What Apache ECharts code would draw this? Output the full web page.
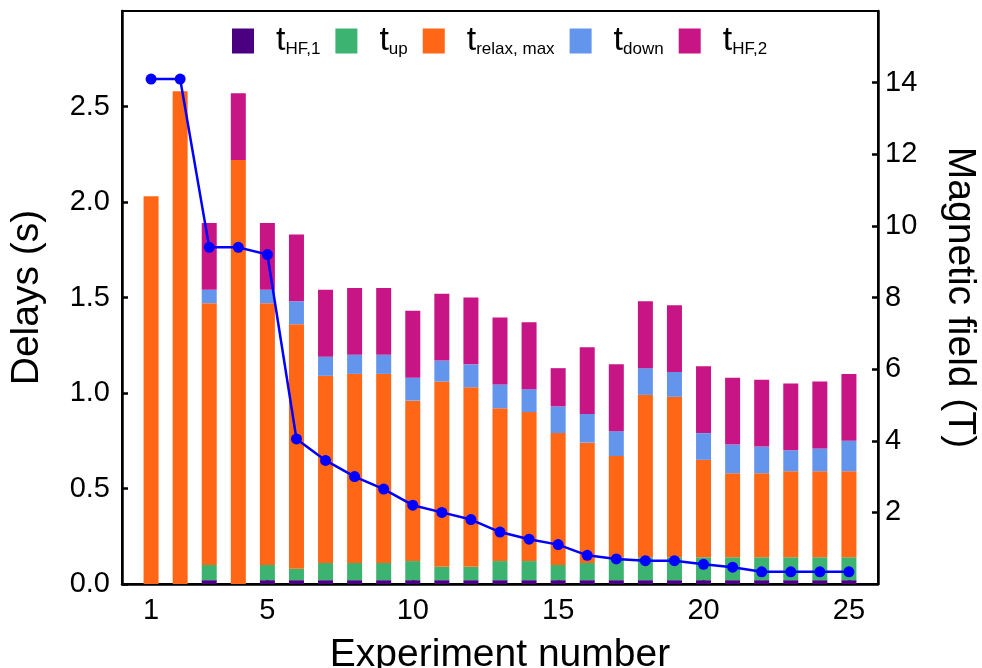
<!DOCTYPE html>
<html>
<head>
<meta charset="utf-8">
<script src="https://cdn.jsdelivr.net/npm/echarts@6/dist/echarts.min.js"></script>
<style>
  html, body { margin: 0; padding: 0; background: #ffffff; }
  #chart { width: 982px; height: 668px; }
</style>
</head>
<body>
<div id="chart"></div>
<script>
// Experiment index (x axis)
const experiments = [1, 2, 3, 4, 5, 6, 7, 8, 9, 10, 11, 12, 13, 14, 15, 16, 17, 18, 19, 20, 21, 22, 23, 24, 25];

// Delay components in seconds, stacked bottom to top
const tHF1   = [0, 0, 0.02, 0, 0.02, 0.02, 0.02, 0.02, 0.02, 0.02, 0.02, 0.02, 0.02, 0.02, 0.02, 0.02, 0.02, 0.02, 0.02, 0.02, 0.02, 0.02, 0.02, 0.02, 0.02];
const tUp    = [0, 0, 0.08, 0, 0.08, 0.06, 0.09, 0.09, 0.09, 0.10, 0.07, 0.07, 0.10, 0.10, 0.08, 0.09, 0.12, 0.12, 0.12, 0.12, 0.12, 0.12, 0.12, 0.12, 0.12];
const tRelax = [2.03, 2.58, 1.37, 2.22, 1.37, 1.28, 0.98, 0.99, 0.99, 0.84, 0.97, 0.94, 0.80, 0.78, 0.69, 0.63, 0.53, 0.85, 0.84, 0.51, 0.44, 0.44, 0.45, 0.45, 0.45];
const tDown  = [0, 0, 0.07, 0, 0.07, 0.12, 0.10, 0.10, 0.10, 0.12, 0.11, 0.12, 0.125, 0.12, 0.14, 0.15, 0.13, 0.14, 0.13, 0.14, 0.15, 0.14, 0.11, 0.12, 0.16];
const tHF2   = [0, 0, 0.35, 0.35, 0.35, 0.35, 0.35, 0.35, 0.35, 0.35, 0.35, 0.35, 0.35, 0.35, 0.20, 0.35, 0.35, 0.35, 0.35, 0.35, 0.35, 0.35, 0.35, 0.35, 0.35];

// Magnetic field per experiment (T)
const field = [14.1, 14.1, 9.4, 9.4, 9.2, 4.05, 3.45, 3.0, 2.65, 2.2, 2.0, 1.8, 1.45, 1.25, 1.1, 0.8, 0.7, 0.65, 0.65, 0.55, 0.47, 0.34, 0.34, 0.34, 0.34];

// Tick labels
const xTicks = [1, 5, 10, 15, 20, 25];
const leftTicks = [0, 0.5, 1.0, 1.5, 2.0, 2.5];
const rightTicks = [2, 4, 6, 8, 10, 12, 14];

// Legend names: "t" followed by its subscript
const stackNames = ['t_HF,1', 't_up', 't_relax, max', 't_down', 't_HF,2'];
const stackData = [tHF1, tUp, tRelax, tDown, tHF2];
const stackColors = ['#4b0082', '#3cb371', '#ff6716', '#6495ed', '#c71585'];

const FONT = '"Liberation Sans", Arial, Helvetica, sans-serif';

// The x axis runs from 0 to 26 with one slot per integer; experiments sit on slots 1..25
const slots = [0].concat(experiments, [26]);
const onSlots = (ys) => slots.map((s) => {
  const i = experiments.indexOf(s);
  return i < 0 ? null : ys[i];
});
const showTick = (index, value) => xTicks.indexOf(Number(value)) >= 0;

const barSeries = stackNames.map((name, k) => ({
  name: name,
  type: 'bar',
  stack: 'delays',
  yAxisIndex: 0,
  barWidth: 15,
  itemStyle: { color: stackColors[k] },
  emphasis: { disabled: true },
  data: onSlots(stackData[k])
}));

const lineSeries = {
  name: 'field',
  type: 'line',
  yAxisIndex: 1,
  symbol: 'circle',
  symbolSize: 11,
  showAllSymbol: true,
  connectNulls: false,
  z: 5,
  lineStyle: { color: '#0000ff', width: 2.5 },
  itemStyle: { color: '#0000ff' },
  emphasis: { disabled: true },
  data: onSlots(field)
};

const axisLine = { show: true, lineStyle: { color: '#000', width: 2.5 } };
const axisTick = { show: true, inside: true, length: 6, lineStyle: { color: '#000', width: 2.5 } };

const chart = echarts.init(document.getElementById('chart'), null, { renderer: 'canvas' });
chart.setOption({
  animation: false,
  backgroundColor: '#ffffff',
  textStyle: { fontFamily: FONT },
  grid: {
    left: 122, right: 104, top: 11, bottom: 84,
    outerBoundsMode: 'none',
    containLabel: false,
    show: true, borderColor: '#000', borderWidth: 2, backgroundColor: 'transparent'
  },
  legend: {
    left: 232,
    top: 24,
    padding: 0,
    itemWidth: 22,
    itemHeight: 25,
    itemGap: 15,
    icon: 'rect',
    data: stackNames,
    formatter: (name) => {
      const sub = name.split('_')[1];
      return '{t|t}{s|' + sub + '}';
    },
    textStyle: {
      fontFamily: FONT,
      color: '#000',
      rich: {
        t: { fontSize: 34, lineHeight: 34, padding: [0, 0, 0, 17], color: '#000', fontFamily: FONT },
        s: { fontSize: 17, lineHeight: 17, verticalAlign: 'bottom', color: '#000', fontFamily: FONT }
      }
    }
  },
  xAxis: {
    type: 'category',
    data: slots,
    boundaryGap: false,
    name: 'Experiment number',
    nameLocation: 'middle',
    nameGap: 52,
    nameTextStyle: { fontSize: 39, lineHeight: 39, color: '#000', fontFamily: FONT },
    axisLine: axisLine,
    axisTick: Object.assign({ interval: showTick }, axisTick),
    axisLabel: { interval: showTick, fontSize: 29, color: '#000', margin: 12, fontFamily: FONT },
    splitLine: { show: false }
  },
  yAxis: [
    {
      type: 'value',
      position: 'left',
      min: 0,
      max: 3,
      interval: 0.5,
      name: 'Delays (s)',
      nameLocation: 'middle',
      nameGap: 75,
      nameTextStyle: { fontSize: 39, lineHeight: 39, color: '#000', fontFamily: FONT },
      axisLine: axisLine,
      axisTick: Object.assign({ customValues: leftTicks }, axisTick),
      axisLabel: {
        customValues: leftTicks,
        fontSize: 29, color: '#000', margin: 12, fontFamily: FONT,
        formatter: (v) => Number(v).toFixed(1)
      },
      splitLine: { show: false }
    },
    {
      type: 'value',
      position: 'right',
      min: 0,
      max: 16,
      interval: 2,
      name: 'Magnetic field (T)',
      nameLocation: 'middle',
      nameRotate: -90,
      nameGap: 62,
      nameTextStyle: { fontSize: 39, lineHeight: 39, color: '#000', fontFamily: FONT },
      axisLine: axisLine,
      axisTick: Object.assign({ customValues: rightTicks }, axisTick),
      axisLabel: { customValues: rightTicks, fontSize: 29, color: '#000', margin: 7, fontFamily: FONT },
      splitLine: { show: false }
    }
  ],
  series: barSeries.concat([lineSeries])
});
</script>
</body>
</html>
